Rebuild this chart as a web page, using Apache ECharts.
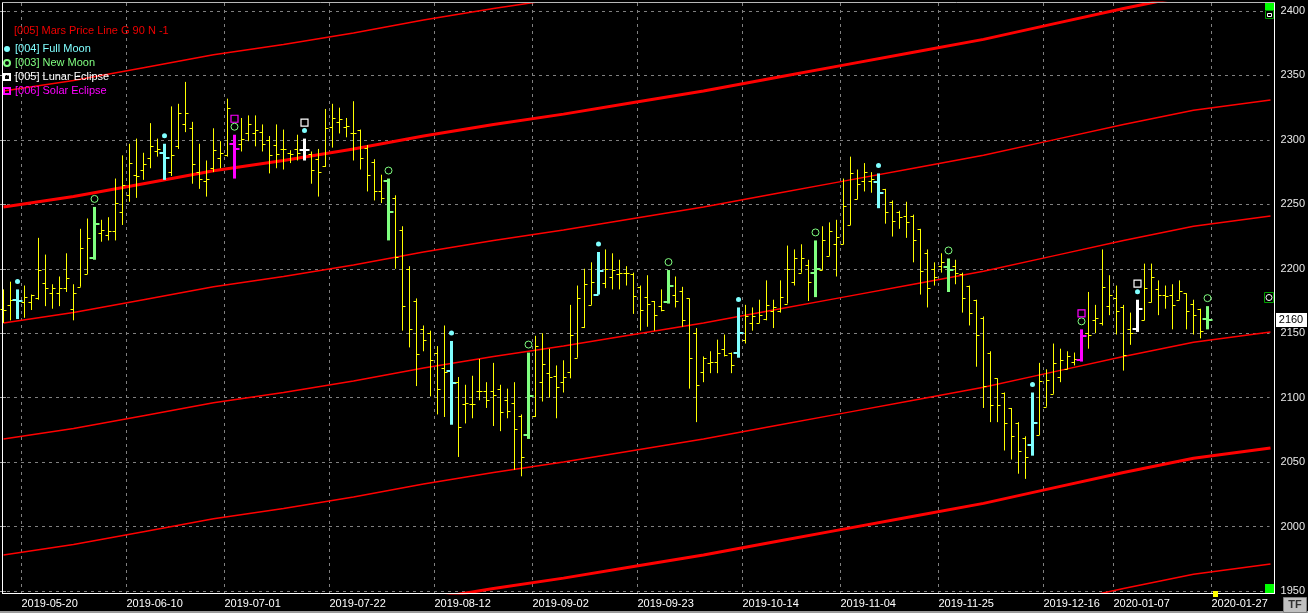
<!DOCTYPE html>
<html><head><meta charset="utf-8">
<script src="https://cdn.jsdelivr.net/npm/echarts@6/dist/echarts.min.js"></script>
<style>html,body{margin:0;padding:0;background:#000;}#c{width:1308px;height:613px;}</style>
</head><body><div id="c"></div>
<script>
// ---- data ----
const open = [2169,2172,2176,2174,2174,2177,2189,2181,2181,2185,
 2169,2186,2196,2208,2228,2226,2229,2244,2257,2273,
 2277,2286,2291,2290,2275,2295,2312,2309,2275,2268,
 2278,2286,2288,2297,2297,2305,2305,2306,2300,2296,
 2293,2290,2293,2292,2289,2285,2280,2310,2314,2310,
 2305,2308,2294,2283,2260,2268,2255,2230,2200,2175,
 2153,2150,2135,2123,2121,2112,2095,2095,2105,2105,
 2105,2107,2098,2096,2086,2071,2086,2112,2119,2117,
 2112,2120,2131,2155,2172,2180,2189,2194,2196,2197,
 2196,2186,2178,2175,2171,2174,2180,2183,2177,2150,
 2120,2127,2128,2138,2135,2135,2145,2158,2158,2161,
 2167,2167,2173,2190,2197,2203,2197,2199,2210,2219,
 2219,2234,2254,2268,2268,2267,2262,2252,2244,2241,
 2241,2231,2212,2200,2202,2201,2202,2196,2187,2176,
 2162,2135,2115,2104,2092,2080,2069,2063,2071,2093,
 2103,2116,2122,2128,2129,2150,2160,2158,2171,2177,
 2170,2153,2153,2160,2174,2184,2180,2180,2176,2181,
 2173,2169,2161];
const high = [2184,2190,2184,2187,2180,2224,2211,2188,2194,2212,
 2188,2231,2239,2248,2238,2240,2270,2288,2297,2301,
 2290,2313,2301,2297,2326,2328,2345,2314,2297,2284,
 2309,2299,2332,2304,2317,2319,2319,2312,2303,2312,
 2308,2292,2304,2301,2291,2293,2324,2328,2325,2317,
 2330,2308,2296,2285,2273,2270,2257,2233,2202,2177,
 2156,2152,2140,2156,2144,2116,2110,2117,2130,2112,
 2127,2110,2107,2112,2087,2135,2148,2150,2138,2125,
 2129,2172,2187,2200,2205,2213,2215,2212,2207,2202,
 2197,2187,2195,2175,2184,2199,2194,2186,2177,2154,
 2132,2136,2145,2149,2135,2170,2172,2170,2176,2191,
 2176,2191,2218,2215,2219,2207,2222,2233,2236,2238,
 2270,2287,2277,2282,2275,2274,2262,2253,2245,2252,
 2242,2231,2215,2205,2212,2208,2207,2197,2187,2176,
 2163,2136,2115,2104,2092,2081,2070,2104,2127,2122,
 2142,2138,2136,2135,2153,2182,2172,2215,2195,2187,
 2172,2166,2176,2204,2204,2191,2187,2188,2191,2181,
 2176,2169,2171];
const low = [2158,2160,2161,2162,2168,2176,2171,2169,2171,2182,
 2160,2186,2196,2207,2221,2222,2222,2234,2252,2255,
 2269,2278,2287,2269,2272,2293,2306,2266,2262,2256,
 2275,2278,2287,2270,2291,2299,2295,2291,2274,2278,
 2277,2282,2284,2284,2266,2256,2279,2294,2305,2302,
 2284,2277,2260,2253,2251,2222,2200,2152,2139,2109,
 2136,2101,2087,2085,2079,2054,2080,2084,2098,2092,
 2078,2074,2084,2044,2039,2068,2085,2097,2100,2084,
 2104,2115,2131,2154,2172,2180,2185,2184,2184,2187,
 2165,2152,2155,2152,2167,2173,2170,2155,2107,2081,
 2112,2119,2119,2132,2119,2131,2142,2152,2158,2160,
 2154,2166,2173,2187,2197,2175,2178,2199,2210,2194,
 2219,2234,2254,2260,2259,2247,2235,2225,2231,2224,
 2205,2180,2170,2187,2197,2182,2188,2166,2156,2124,
 2092,2081,2081,2059,2052,2041,2037,2055,2071,2093,
 2103,2112,2122,2125,2128,2138,2150,2156,2164,2149,
 2121,2141,2151,2160,2174,2164,2169,2153,2176,2153,
 2149,2146,2153];
const close = [2168,2176,2175,2178,2180,2199,2185,2185,2185,2193,
 2181,2216,2224,2235,2230,2229,2251,2265,2282,2272,
 2281,2295,2293,2286,2288,2321,2321,2281,2270,2270,
 2292,2290,2325,2293,2301,2312,2308,2297,2288,2289,
 2293,2289,2290,2292,2277,2275,2309,2317,2316,2311,
 2305,2286,2273,2260,2255,2244,2209,2171,2153,2134,
 2145,2129,2107,2120,2111,2077,2096,2095,2105,2098,
 2102,2089,2090,2076,2054,2101,2140,2126,2116,2108,
 2116,2149,2177,2188,2190,2198,2200,2199,2197,2197,
 2179,2168,2173,2164,2168,2187,2175,2160,2131,2110,
 2131,2128,2135,2133,2125,2150,2163,2163,2164,2172,
 2170,2178,2200,2208,2208,2190,2200,2222,2229,2225,
 2249,2274,2266,2275,2270,2259,2244,2237,2240,2236,
 2222,2198,2185,2194,2205,2199,2197,2177,2166,2149,
 2109,2094,2094,2080,2070,2059,2054,2080,2113,2114,
 2127,2129,2132,2130,2148,2149,2162,2186,2180,2167,
 2133,2150,2169,2185,2194,2180,2179,2172,2183,2167,
 2164,2152,2160];

const fullMoonIdx = [2,23,43,64,85,105,125,147,162];
const newMoonIdx = [13,33,55,75,95,116,135,154,172];
const lunarEclipseIdx = [43,162];
const solarEclipseIdx = [33,154];

const tickDates = ['2019-05-20','2019-06-10','2019-07-01','2019-07-22','2019-08-12','2019-09-02',
  '2019-09-23','2019-10-14','2019-11-04','2019-11-25','2019-12-16','2020-01-07','2020-01-27'];
const skipDates = ['2019-06-20','2019-08-15','2019-10-25','2019-11-11','2019-12-24','2019-12-25',
  '2019-12-26','2019-12-31','2020-01-01','2020-01-02'];
const slotCount = 182;

// Mars price lines (G 90), sampled along the bar index
const lineIdx  = [0,10,20,30,40,50,60,70,80,90,100,110,120,130,140,150,160,170,181];
const marsP90  = [2338,2346,2356,2366,2374,2383,2393,2402,2410,2419,2428,2438,2448,2458,2468,2480,2492,2503,2511];
const mars0    = [2248,2256,2266,2276,2284,2293,2303,2312,2320,2329,2338,2348,2358,2368,2378,2390,2402,2413,2421];
const marsM90  = [2158,2166,2176,2186,2194,2203,2213,2222,2230,2239,2248,2258,2268,2278,2288,2300,2312,2323,2331];
const marsM180 = [2068,2076,2086,2096,2104,2113,2123,2132,2140,2149,2158,2168,2178,2188,2198,2210,2222,2233,2241];
const marsM270 = [1978,1986,1996,2006,2014,2023,2033,2042,2050,2059,2068,2078,2088,2098,2108,2120,2132,2143,2151];
const marsM360 = [1888,1896,1906,1916,1924,1933,1943,1952,1960,1969,1978,1988,1998,2008,2018,2030,2042,2053,2061];
const marsM450 = [1798,1806,1816,1826,1834,1843,1853,1862,1870,1879,1888,1898,1908,1918,1928,1940,1952,1963,1971];

const yMin = 1950, yMax = 2400, yStep = 50;

// ---- build ----
const categories = [];
(function(){
  const d = new Date(Date.UTC(2019,4,15));
  while (categories.length < slotCount) {
    const wd = d.getUTCDay();
    const s = d.toISOString().slice(0,10);
    if (wd !== 0 && wd !== 6 && skipDates.indexOf(s) < 0) categories.push(s);
    d.setUTCDate(d.getUTCDate()+1);
  }
})();

const FONT = '"Liberation Sans", Arial, sans-serif';
const MARS = '[005] Mars Price Line G 90 N -1';
const FULL = '[004] Full Moon', NEWM = '[003] New Moon', LUNAR = '[005] Lunar Eclipse', SOLAR = '[006] Solar Eclipse';
const C_FULL = '#80ffff', C_NEW = '#80ff80', C_LUNAR = '#ffffff', C_SOLAR = '#ff00ff', C_BAR = '#ffff00';

function specialColor(i) {
  if (lunarEclipseIdx.indexOf(i) >= 0) return C_LUNAR;
  if (solarEclipseIdx.indexOf(i) >= 0) return C_SOLAR;
  if (fullMoonIdx.indexOf(i) >= 0) return C_FULL;
  if (newMoonIdx.indexOf(i) >= 0) return C_NEW;
  return null;
}

const ohlcData = open.map((o, i) => [i, o, high[i], low[i], close[i]]);

function renderBar(params, api) {
  const i = api.value(0);
  const p = api.coord([i, api.value(2)]);
  const x = Math.floor(p[0]) + 0.5;
  const yh = p[1];
  const yl = api.coord([i, api.value(3)])[1];
  const yo = api.coord([i, api.value(1)])[1];
  const yc = api.coord([i, api.value(4)])[1];
  const sc = specialColor(i);
  const col = sc || C_BAR;
  if (sc) {
    const ro = Math.round(yo), rc = Math.round(yc);
    return {type:'group', children:[
      {type:'line', shape:{x1:x, y1:yh, x2:x, y2:yl}, style:{stroke:col, lineWidth:3}},
      {type:'line', shape:{x1:x-5, y1:ro, x2:x, y2:ro}, style:{stroke:col, lineWidth:2}},
      {type:'line', shape:{x1:x, y1:rc, x2:x+5, y2:rc}, style:{stroke:col, lineWidth:2}}
    ]};
  }
  const ro = Math.round(yo) + 0.5, rc = Math.round(yc) + 0.5;
  return {type:'group', children:[
    {type:'line', shape:{x1:x, y1:yh, x2:x, y2:yl}, style:{stroke:col, lineWidth:1}},
    {type:'line', shape:{x1:x-3, y1:ro, x2:x, y2:ro}, style:{stroke:col, lineWidth:1}},
    {type:'line', shape:{x1:x, y1:rc, x2:x+3, y2:rc}, style:{stroke:col, lineWidth:1}}
  ]};
}

const marsLines = [
  {d: marsP90, w: 1.5}, {d: mars0, w: 3}, {d: marsM90, w: 1.5}, {d: marsM180, w: 1.5},
  {d: marsM270, w: 1.5}, {d: marsM360, w: 3}, {d: marsM450, w: 1.5}
];

const gridDash = {color:'#808080', type:[3,4], width:1};

const option = {
  backgroundColor: '#000',
  animation: false,
  grid: [
    {left: 0, right: 34, top: 3, bottom: 20},
    {left: 0, right: 34, top: 11, bottom: 22}
  ],
  xAxis: [
    {type:'category', gridIndex:0, data: categories, boundaryGap: true,
     axisLine:{show:false}, axisTick:{show:false},
     axisLabel:{color:'#ffffff', fontSize:11, fontFamily:FONT, align:'left', margin:5, padding:[0,0,0,4],
       interval: (i) => tickDates.indexOf(categories[i+1]) >= 0,
       formatter: (v, i) => categories[i+1] || ''},
     splitLine:{show:true, interval: (i) => tickDates.indexOf(categories[i]) >= 0, lineStyle: gridDash}},
    {type:'value', gridIndex:1, show:false, min:0, max:1}
  ],
  yAxis: [
    {type:'value', gridIndex:0, min: yMin - 2/1.28889, max: yMax + 8/1.28889, show:false},
    {type:'value', gridIndex:1, position:'right', min:yMin, max:yMax, interval:yStep,
     axisLine:{show:false}, axisTick:{show:true, length:6, lineStyle:{color:'#a0a0a0'}},
     axisLabel:{color:'#e8e8e8', fontSize:11, fontFamily:FONT, margin:11, formatter: (v) => String(v)},
     splitLine:{show:true, lineStyle: gridDash}}
  ],
  legend: [
    {data:[{name:MARS, icon:'none', textStyle:{color:'#f00000'}}], left:3, top:24, orient:'vertical',
     itemWidth:6, itemHeight:6, padding:0, selectedMode:false,
     textStyle:{fontSize:11, fontFamily:FONT, lineHeight:14}},
    {data:[{name:FULL, textStyle:{color:C_FULL}}, {name:NEWM, textStyle:{color:C_NEW}},
           {name:LUNAR, textStyle:{color:C_LUNAR}}, {name:SOLAR, textStyle:{color:C_SOLAR}}],
     left:3, top:42, orient:'vertical', itemWidth:6, itemHeight:6, itemGap:0, padding:0, selectedMode:false,
     textStyle:{fontSize:11, fontFamily:FONT, lineHeight:14}}
  ],
  series: [
    ...marsLines.map(m => ({
      type:'line', name:MARS, xAxisIndex:0, yAxisIndex:0,
      data: lineIdx.map((k, n) => [k, m.d[n]]),
      showSymbol:false, symbol:'none', silent:true, z:2,
      lineStyle:{color:'#ff0000', width:m.w}
    })),
    {type:'custom', name:'bars', xAxisIndex:0, yAxisIndex:0, renderItem: renderBar,
     data: ohlcData, encode:{x:0, y:[1,2,3,4]}, z:3, silent:true},
    {type:'scatter', name:FULL, xAxisIndex:0, yAxisIndex:0, symbol:'circle', symbolSize:5, symbolOffset:[0,-8],
     itemStyle:{color:C_FULL, opacity:1}, data: fullMoonIdx.map(i => [i, high[i]]), z:4, silent:true},
    {type:'scatter', name:NEWM, xAxisIndex:0, yAxisIndex:0, symbol:'circle', symbolSize:7, symbolOffset:[0,-8],
     itemStyle:{color:'rgba(0,0,0,0)', borderColor:C_NEW, borderWidth:1, opacity:1}, data: newMoonIdx.map(i => [i, high[i]]), z:4, silent:true},
    {type:'scatter', name:LUNAR, xAxisIndex:0, yAxisIndex:0, symbol:'rect', symbolSize:7, symbolOffset:[0,-16],
     itemStyle:{color:'rgba(0,0,0,0)', borderColor:C_LUNAR, borderWidth:1.2, opacity:1}, data: lunarEclipseIdx.map(i => [i, high[i]]), z:4, silent:true},
    {type:'scatter', name:SOLAR, xAxisIndex:0, yAxisIndex:0, symbol:'rect', symbolSize:7, symbolOffset:[0,-16],
     itemStyle:{color:'rgba(0,0,0,0)', borderColor:C_SOLAR, borderWidth:1.2, opacity:1}, data: solarEclipseIdx.map(i => [i, high[i]]), z:4, silent:true}
  ]
};

const chart = echarts.init(document.getElementById('c'), null, {width:1308, height:613});
chart.setOption(option);

// chrome + data-derived labels
const lastIdx = close.length - 1;
const lastPt = chart.convertToPixel({xAxisIndex:0, yAxisIndex:0}, [lastIdx, close[lastIdx]]);
const nowX = chart.convertToPixel({xAxisIndex:0, yAxisIndex:0}, [lastIdx + 1, yMin])[0];
const ly = Math.round(lastPt[1]);
chart.setOption({graphic: [
  {type:'line', z:20, shape:{x1:2.5,y1:3,x2:2.5,y2:593}, style:{stroke:'#ffffff', lineWidth:1}},
  {type:'line', z:20, shape:{x1:1274.5,y1:3,x2:1274.5,y2:593}, style:{stroke:'#ffffff', lineWidth:1}},
  {type:'line', z:20, shape:{x1:2,y1:593.5,x2:1275,y2:593.5}, style:{stroke:'#ffffff', lineWidth:1}},
  {type:'line', z:20, shape:{x1:2,y1:2.5,x2:1275,y2:2.5}, style:{stroke:'#b8b8b8', lineWidth:1}},
  {type:'rect', z:20, shape:{x:1265,y:3,width:9,height:7}, style:{fill:'#00ff00'}},
  {type:'rect', z:20, shape:{x:1265.5,y:10.5,width:8,height:8}, style:{fill:'#000', stroke:'#00a000', lineWidth:1}},
  {type:'rect', z:21, shape:{x:1267.5,y:13.5,width:4,height:3}, style:{fill:'none', stroke:'#ffffff', lineWidth:1}},
  {type:'rect', z:20, shape:{x:1264.5,y:292.5,width:9,height:10}, style:{fill:'#000', stroke:'#00a000', lineWidth:1}},
  {type:'circle', z:21, shape:{cx:1269,cy:297.5,r:3}, style:{fill:'none', stroke:'#ffffff', lineWidth:1}},
  {type:'rect', z:20, shape:{x:1265,y:584,width:9,height:9}, style:{fill:'#00ff00'}},
  {type:'rect', z:20, shape:{x:1276,y:ly-7,width:31,height:14}, style:{fill:'#ffffff'}},
  {type:'text', z:21, x:1291, y:ly, style:{text:String(close[lastIdx]), fill:'#000', font:'11px '+FONT, align:'center', verticalAlign:'middle'}},
  {type:'rect', z:20, shape:{x:Math.round(nowX)-2,y:591,width:5,height:6}, style:{fill:'#ffff00'}},
  {type:'rect', z:20, shape:{x:1283.5,y:597.5,width:23,height:15}, style:{fill:'#c0c0c0', stroke:'#808080', lineWidth:1}},
  {type:'text', z:21, x:1295, y:605, style:{text:'TF', fill:'#303030', font:'bold 11px '+FONT, align:'center', verticalAlign:'middle'}},
  {type:'rect', z:19, shape:{x:0,y:611,width:1308,height:2}, style:{fill:'#9a9a9a'}}
]});
</script>
</body></html>
